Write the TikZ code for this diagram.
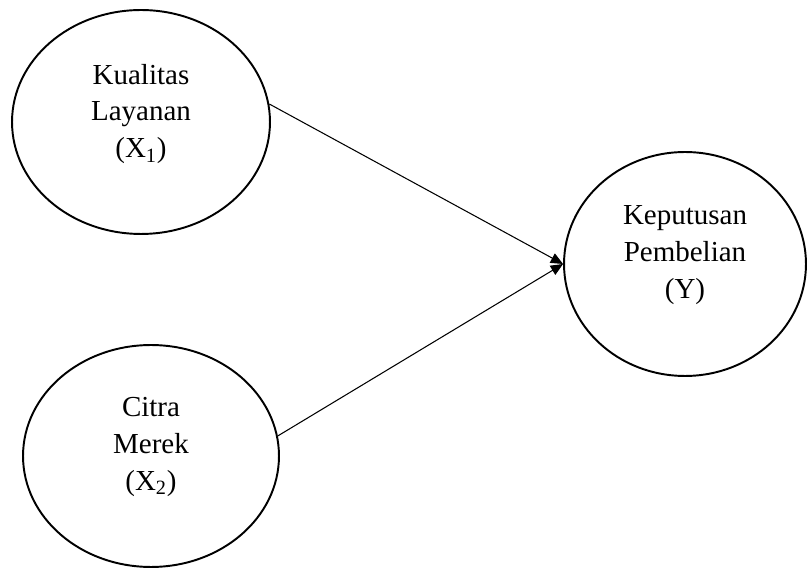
\documentclass[tikz,border=0pt]{standalone}
\usepackage{fontspec}
\setmainfont{Liberation Serif}
\usetikzlibrary{shapes.geometric,arrows.meta}
\tikzset{
	var/.style={draw, ellipse, line width=1.1pt, inner sep=0pt},
	lbl/.style={align=center, font=\fontsize{16.5}{21}\selectfont},
	path/.style={line width=0.6pt, -{Triangle[length=7pt,width=6pt]}}
}
\begin{document}
\begin{tikzpicture}[x=0.02cm, y=-0.02cm]
		\useasboundingbox (0,0) rectangle (808,570);
		% Variabel
		\node[var, minimum width=5.16cm, minimum height=4.48cm] (x1) at (141,122) {};
		\node[var, minimum width=5.12cm, minimum height=4.44cm] (x2) at (151,456) {};
		\node[var, minimum width=4.84cm, minimum height=4.48cm] (y) at (685,264) {};
		
		% Teks
		\node[lbl] (x1t) at (141,114) {Kualitas\\Layanan\\(X\textsubscript{1})};
		\node[lbl] (x2t) at (151,447) {Citra\\Merek\\(X\textsubscript{2})};
		\node[lbl] (yt) at (685,255) {Keputusan\\Pembelian\\(Y)};
		
		% Hubungan
		\draw[path] (x1.8) -- (y.west);
		\draw[path] (x2.9) -- (y.west);
\end{tikzpicture}
\end{document}
